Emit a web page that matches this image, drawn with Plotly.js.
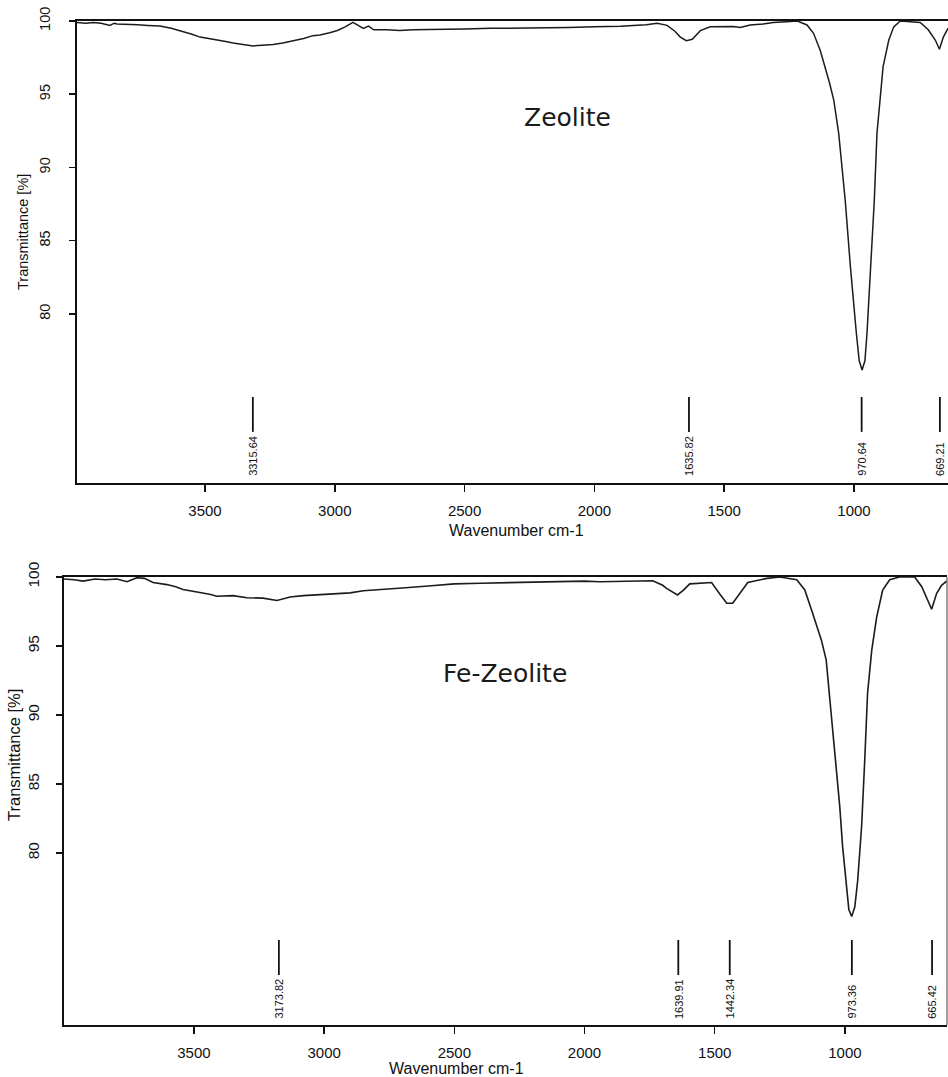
<!DOCTYPE html>
<html>
<head>
<meta charset="utf-8">
<script src="https://cdn.plot.ly/plotly-3.0.1.min.js"></script>
<style>
  html, body { margin: 0; padding: 0; background: #ffffff; }
  #chart { width: 948px; height: 1077px; }
</style>
</head>
<body>
<div id="chart"></div>
<script>
// ---------- Data ----------
// Zeolite spectrum (wavenumber cm-1, transmittance %)
const zeoWavenumber = [3993,3960,3930,3900,3866,3850,3839,3800,3760,3720,3673,3630,3585,3550,3519,3480,3454,3420,3392,3350,3315,3280,3238,3200,3161,3120,3084,3057,3020,2990,2960,2930,2910,2890,2870,2850,2800,2750,2700,2600,2500,2400,2300,2200,2100,2000,1978,1900,1800,1758,1720,1690,1669,1646,1623,1592,1554,1500,1465,1438,1400,1350,1311,1260,1218,1181,1156,1130,1111,1094,1078,1059,1034,1014,991,980,969,958,950,934.5,921.8,911.6,901,888,866,847,822,780,745,714,687,671,656,638];
const zeoTransmittance = [99.9,99.85,99.9,99.85,99.7,99.85,99.8,99.8,99.75,99.7,99.66,99.5,99.3,99.1,98.9,98.8,98.7,98.6,98.5,98.4,98.3,98.35,98.4,98.5,98.65,98.8,99.0,99.05,99.2,99.35,99.6,99.9,99.7,99.5,99.65,99.4,99.4,99.35,99.4,99.4,99.45,99.5,99.5,99.55,99.55,99.6,99.6,99.65,99.75,99.84,99.7,99.3,98.9,98.66,98.75,99.34,99.6,99.62,99.62,99.55,99.72,99.8,99.89,99.95,100,99.73,99.16,97.99,96.88,95.75,94.6,92.33,87.78,83.23,78.68,76.8,76.18,76.8,78.68,83.23,87.78,92.33,94.6,96.88,98.7,99.6,100,99.95,99.9,99.4,98.7,98.07,98.9,99.5];

// Fe-Zeolite spectrum
const feWavenumber = [3999,3960,3926,3880,3840,3796,3757,3719,3690,3657,3604,3570,3542,3477,3440,3412,3380,3350,3297,3235,3181,3131,3080,3016,2950,2900,2850,2800,2700,2600,2500,2400,2300,2200,2100,2000,1941,1850,1738,1700,1685,1643,1620,1596,1512,1482,1454,1431,1404,1373,1300,1250,1185,1154,1124,1090,1072,1060,1047,1032,1020,1009,993,985,974,962,951,936,924,913,897,878,855,828,790,732,705,686,667,648,629,609];
const feTransmittance = [99.85,99.8,99.7,99.85,99.8,99.85,99.66,99.95,99.9,99.6,99.45,99.3,99.1,98.9,98.75,98.6,98.62,98.65,98.5,98.47,98.3,98.55,98.65,98.72,98.8,98.85,99.0,99.05,99.2,99.35,99.5,99.55,99.6,99.65,99.7,99.7,99.66,99.7,99.73,99.4,99.18,98.7,99.05,99.5,99.6,98.8,98.1,98.1,98.8,99.6,99.9,100,99.8,99.06,97.37,95.4,94.0,91.6,89.2,86.3,83.4,80.5,77.6,75.9,75.4,76.1,78.0,81.9,86.7,91.6,94.7,97.1,99.06,99.8,100,100,99.3,98.45,97.66,98.8,99.4,99.7];

// Peak labels
const zeoPeaks = [3315.64, 1635.82, 970.64, 669.21];
const zeoPeakLabels = ["3315.64", "1635.82", "970.64", "669.21"];
const fePeaks = [3173.82, 1639.91, 1442.34, 973.36, 665.42];
const fePeakLabels = ["3173.82", "1639.91", "1442.34", "973.36", "665.42"];

// Axis ticks
const xTickVals = [1000, 1500, 2000, 2500, 3000, 3500];
const xTickText = ["1000", "1500", "2000", "2500", "3000", "3500"];
const yTickVals = [80, 85, 90, 95, 100];
const yTickText = ["80", "85", "90", "95", "100"];

const panelNames = ["Zeolite", "Fe-Zeolite"];
const xTitleText = "Wavenumber cm-1";
const yTitleText = "Transmittance [%]";

// ---------- Layout helpers ----------
const W = 948, H = 1077;
const px = v => v / W;
const py = v => 1 - v / H;
const FONT = "Liberation Sans, Arial, Helvetica, sans-serif";
const INK = "#111111";

const traces = [
  { x: zeoWavenumber, y: zeoTransmittance, type: "scatter", mode: "lines",
    xaxis: "x", yaxis: "y", line: { color: "#1c1c1c", width: 1.5 }, name: panelNames[0], hoverinfo: "x+y" },
  { x: feWavenumber, y: feTransmittance, type: "scatter", mode: "lines",
    xaxis: "x2", yaxis: "y2", line: { color: "#1c1c1c", width: 1.6 }, name: panelNames[1], hoverinfo: "x+y" }
];

function xAxisCfg(domain, range, anchor) {
  return {
    domain: domain, range: range, anchor: anchor,
    tickmode: "array", tickvals: xTickVals, ticktext: xTickText,
    ticks: "outside", ticklen: 7, tickwidth: 1.5, tickcolor: INK,
    ticklabelstandoff: 6,
    tickfont: { family: FONT, size: 15, color: INK },
    showline: true, linewidth: 2, linecolor: INK, mirror: true,
    showgrid: false, zeroline: false
  };
}
function yAxisCfg(domain, range, anchor, fsize, standoff) {
  return {
    domain: domain, range: range, anchor: anchor,
    tickmode: "array", tickvals: yTickVals, ticktext: yTickText,
    tickangle: -90,
    ticks: "outside", ticklen: 6, tickwidth: 1.5, tickcolor: INK,
    ticklabelstandoff: standoff,
    tickfont: { family: FONT, size: fsize, color: INK },
    showline: true, linewidth: 2, linecolor: INK, mirror: false,
    showgrid: false, zeroline: false
  };
}

const shapes = [];
const annotations = [];

// Peak marker lines and labels, top panel
zeoPeaks.forEach((p, i) => {
  shapes.push({ type: "line", xref: "x", yref: "y", x0: p, x1: p, y0: 71.95, y1: 74.33,
                line: { color: INK, width: 1.8 } });
  annotations.push({ xref: "x", yref: "y", x: p, y: 68.8, text: zeoPeakLabels[i],
                     textangle: -90, showarrow: false, xanchor: "center", yanchor: "bottom",
                     font: { family: FONT, size: 11, color: INK } });
});
// Peak marker lines and labels, bottom panel
fePeaks.forEach((p, i) => {
  shapes.push({ type: "line", xref: "x2", yref: "y2", x0: p, x1: p, y0: 71.16, y1: 73.7,
                line: { color: INK, width: 1.8 } });
  annotations.push({ xref: "x2", yref: "y2", x: p, y: 67.85, text: fePeakLabels[i],
                     textangle: -90, showarrow: false, xanchor: "center", yanchor: "bottom",
                     font: { family: FONT, size: 11, color: INK } });
});

// Right border of bottom panel
shapes.push({ type: "line", xref: "x2 domain", yref: "y2 domain", x0: 1, x1: 1, y0: 0, y1: 1,
              line: { color: "#444444", width: 1 } });

// Panel names
annotations.push({ xref: "paper", yref: "paper", x: px(567), y: py(117), text: panelNames[0],
                   showarrow: false, xanchor: "center", yanchor: "middle",
                   font: { family: "DejaVu Sans, Verdana, sans-serif", size: 25, color: "#1a1a1a" } });
annotations.push({ xref: "paper", yref: "paper", x: px(505), y: py(673), text: panelNames[1],
                   showarrow: false, xanchor: "center", yanchor: "middle",
                   font: { family: "DejaVu Sans, Verdana, sans-serif", size: 25, color: "#1a1a1a" } });

// Axis titles
annotations.push({ xref: "paper", yref: "paper", x: px(516), y: py(530), text: xTitleText,
                   showarrow: false, xanchor: "center", yanchor: "middle",
                   font: { family: FONT, size: 16, color: INK } });
annotations.push({ xref: "paper", yref: "paper", x: px(456), y: py(1068), text: xTitleText,
                   showarrow: false, xanchor: "center", yanchor: "middle",
                   font: { family: FONT, size: 16, color: INK } });
annotations.push({ xref: "paper", yref: "paper", x: px(23), y: py(232), text: yTitleText,
                   textangle: -90, showarrow: false, xanchor: "center", yanchor: "middle",
                   font: { family: FONT, size: 14.5, color: INK } });
annotations.push({ xref: "paper", yref: "paper", x: px(14), y: py(755), text: yTitleText,
                   textangle: -90, showarrow: false, xanchor: "center", yanchor: "middle",
                   font: { family: FONT, size: 16.5, color: INK } });

const layout = {
  width: W, height: H,
  margin: { l: 0, r: 0, t: 0, b: 0, pad: 0 },
  paper_bgcolor: "#ffffff", plot_bgcolor: "#ffffff",
  showlegend: false,
  font: { family: FONT, color: INK },
  xaxis: xAxisCfg([px(77), 1], [3993, 638], "y"),
  yaxis: yAxisCfg([py(483), py(21)], [68.46, 100], "x", 14.5, 13),
  xaxis2: xAxisCfg([px(64), px(947)], [3999, 608], "y2"),
  yaxis2: yAxisCfg([py(1025), py(577)], [67.54, 100], "x2", 15.5, 11),
  shapes: shapes,
  annotations: annotations
};

Plotly.newPlot("chart", traces, layout, { displayModeBar: false, staticPlot: true });
</script>
</body>
</html>
